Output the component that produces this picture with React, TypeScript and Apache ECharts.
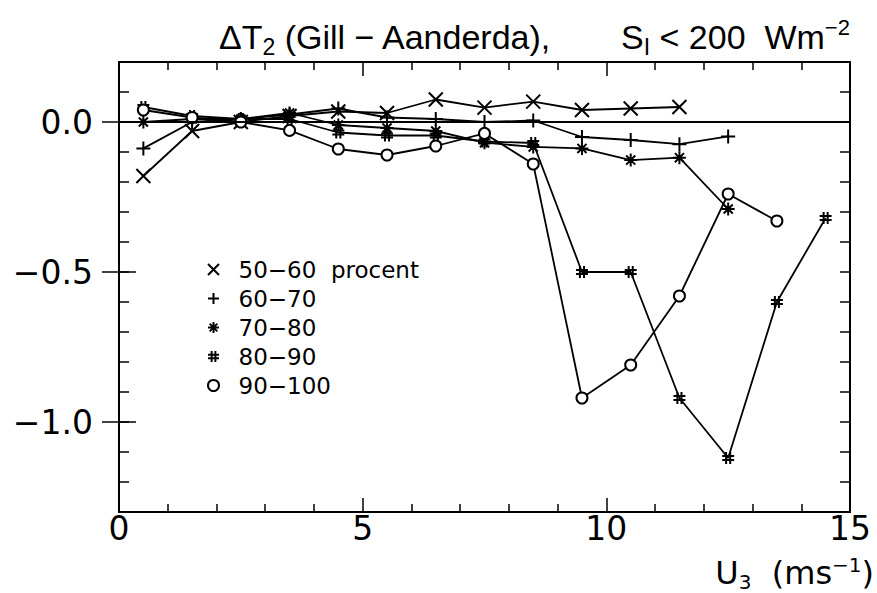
import React, { useEffect, useRef } from "react";
import * as echarts from "echarts";

// Wind speed bins (m/s) – bin centres
const windSpeed = [0.5, 1.5, 2.5, 3.5, 4.5, 5.5, 6.5, 7.5, 8.5, 9.5, 10.5, 11.5, 12.5, 13.5, 14.5];
const seriesNames = ["50−60  procent", "60−70", "70−80", "80−90", "90−100"];
// ΔT2 (Gill − Aanderaa) per relative-humidity class
const rh50to60 = [-0.18, -0.03, 0.0, 0.02, 0.035, 0.03, 0.075, 0.048, 0.068, 0.04, 0.045, 0.05];
const rh60to70 = [-0.088, 0.0, 0.01, 0.025, 0.045, 0.015, 0.01, 0.0, 0.005, -0.05, -0.06, -0.074, -0.048];
const rh70to80 = [0.0, 0.01, 0.01, 0.03, -0.01, -0.02, -0.03, -0.069, -0.083, -0.088, -0.127, -0.119, -0.29];
const rh80to90 = [0.05, 0.02, 0.01, 0.01, -0.035, -0.045, -0.045, -0.065, -0.07, -0.5, -0.5, -0.92, -1.12, -0.6, -0.32];
const rh90to100 = [0.04, 0.015, 0.0, -0.028, -0.09, -0.11, -0.08, -0.038, -0.14, -0.92, -0.81, -0.58, -0.24, -0.33];
const xTickLabels = [0, 5, 10, 15];
const yTickLabels = [-1.0, -0.5, 0.0];

const symbols = [
  "path://M0,0L10,10M10,0L0,10",
  "path://M5,0L5,10M0,5L10,5",
  "path://M5,0L5,10M0,5L10,5M1.5,1.5L8.5,8.5M8.5,1.5L1.5,8.5",
  "path://M3.3,0L3.3,10M6.7,0L6.7,10M0,3.3L10,3.3M0,6.7L10,6.7",
  "emptyCircle",
];
const symbolSizes = [14, 14, 13, 12, 11];
const allValues = [rh50to60, rh60to70, rh70to80, rh80to90, rh90to100];

const tickFmt = (v: number) => (v < -1e-9 ? "−" : "") + Math.abs(v).toFixed(1);

export default function App() {
  const ref = useRef<HTMLDivElement>(null);
  useEffect(() => {
    if (!ref.current) return;
    const chart = echarts.init(ref.current, undefined, { renderer: "svg" });
    const black = "#000";
    const labelFont = "DejaVu Sans";
    const titleFont = "Liberation Sans";
    const line = { show: true, onZero: false, lineStyle: { color: black, width: 2 } };

    const yBase = {
      type: "value",
      min: -1.3,
      max: 0.2,
      interval: 0.1,
      splitLine: { show: false },
    };
    const xBase = {
      type: "value",
      min: 0,
      max: 15,
      interval: 5,
      splitLine: { show: false },
      axisLine: line,
      axisTick: { show: true, inside: true, length: 14, lineStyle: { color: black, width: 1.5 } },
      minorTick: { show: true, splitNumber: 5, length: 8, lineStyle: { color: black, width: 1.5 } },
    };

    const series = allValues.map((vals, i) => ({
      name: seriesNames[i],
      type: "line",
      xAxisIndex: 0,
      yAxisIndex: 0,
      data: vals.map((v, j) => [windSpeed[j], v]),
      symbol: symbols[i],
      symbolSize: symbolSizes[i],
      showAllSymbol: true,
      lineStyle: { color: black, width: 1.8 },
      itemStyle: { color: black, borderColor: black, borderWidth: 2 },
      z: 3,
      ...(i === 0
        ? {
            markLine: {
              silent: true,
              symbol: ["none", "none"],
              label: { show: false },
              lineStyle: { color: black, width: 2, type: "solid" },
              data: [{ yAxis: 0 }],
            },
          }
        : {}),
    }));

    chart.setOption({
      animation: false,
      backgroundColor: "#fff",
      title: [
        {
          text: "ΔT{sub|2} (Gill − Aanderda),",
          left: 214,
          top: 10,
          textStyle: {
            fontFamily: titleFont,
            fontSize: 34,
            fontWeight: "normal",
            color: black,
            rich: { sub: { fontFamily: titleFont, fontSize: 23, color: black, padding: [20, 0, 0, 0] } },
          },
        },
        {
          text: "S{sub|I} < 200  Wm{sup|−2}",
          left: 616,
          top: 10,
          textStyle: {
            fontFamily: titleFont,
            fontSize: 34,
            fontWeight: "normal",
            color: black,
            rich: {
              sub: { fontFamily: titleFont, fontSize: 23, color: black, padding: [20, 0, 0, 0] },
              sup: { fontFamily: titleFont, fontSize: 22, color: black, padding: [0, 0, 18, 0] },
            },
          },
        },
      ],
      grid: { left: 119, right: 26, top: 62, bottom: 81, containLabel: false },
      legend: {
        orient: "vertical",
        left: 202,
        top: 253,
        itemWidth: 24,
        itemHeight: 11,
        itemGap: 6,
        selectedMode: false,
        textStyle: { fontFamily: labelFont, fontSize: 23, color: black, padding: [0, 0, 0, 8] },
        itemStyle: { color: black, borderColor: black, borderWidth: 2 },
        data: seriesNames.map((n, i) => ({ name: n, icon: symbols[i] })),
      },
      xAxis: [
        {
          ...xBase,
          position: "bottom",
          axisLabel: {
            customValues: xTickLabels,
            color: black,
            fontFamily: labelFont,
            fontSize: 33,
            margin: 0,
          },
          name: "U{sub|3}  (ms{sup|−1})",
          nameLocation: "end",
          nameGap: 24,
          nameTextStyle: {
            fontFamily: labelFont,
            fontSize: 32,
            color: black,
            align: "right",
            verticalAlign: "top",
            padding: [42, 0, 0, 0],
            rich: {
              sub: { fontFamily: labelFont, fontSize: 20, color: black, padding: [18, 0, 0, 0] },
              sup: { fontFamily: labelFont, fontSize: 20, color: black, padding: [0, 0, 16, 0] },
            },
          },
        },
        { ...xBase, position: "top", axisLabel: { show: false } },
      ],
      yAxis: [
        {
          ...yBase,
          position: "left",
          axisLine: line,
          axisTick: { show: true, inside: true, length: 10, lineStyle: { color: black, width: 1.5 } },
          axisLabel: {
            customValues: yTickLabels,
            formatter: tickFmt,
            color: black,
            fontFamily: labelFont,
            fontSize: 33,
            margin: 26,
          },
        },
        {
          ...yBase,
          position: "left",
          axisLine: { show: false },
          axisTick: { show: true, inside: true, length: 17, customValues: yTickLabels, lineStyle: { color: black, width: 1.5 } },
          axisLabel: { show: false },
        },
        {
          ...yBase,
          position: "right",
          axisLine: line,
          axisTick: { show: true, inside: true, length: 10, lineStyle: { color: black, width: 1.5 } },
          axisLabel: { show: false },
        },
        {
          ...yBase,
          position: "right",
          axisLine: { show: false },
          axisTick: { show: true, inside: true, length: 17, customValues: yTickLabels, lineStyle: { color: black, width: 1.5 } },
          axisLabel: { show: false },
        },
      ],
      series,
    });
    return () => chart.dispose();
  }, []);
  return (
    <div
      ref={ref}
      style={{ position: "fixed", left: 0, top: 0, width: 877, height: 593 }}
    />
  );
}
